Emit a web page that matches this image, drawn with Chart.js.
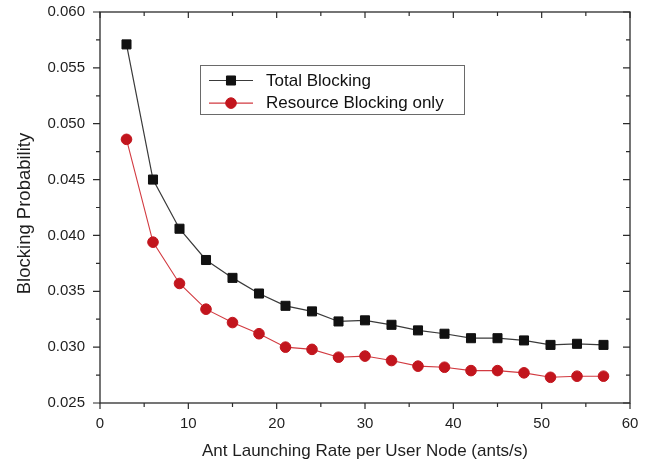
<!DOCTYPE html>
<html>
<head>
<meta charset="utf-8">
<script src="https://cdn.jsdelivr.net/npm/chart.js@4/dist/chart.umd.min.js"></script>
<style>
  html, body { margin: 0; padding: 0; background: #fff; }
  #c { display: block; }
</style>
</head>
<body>
<canvas id="c" width="656" height="467"></canvas>
<script>
// Ant launching rate per user node (ants/s)
const rates = [3, 6, 9, 12, 15, 18, 21, 24, 27, 30, 33, 36, 39, 42, 45, 48, 51, 54, 57];
// Blocking probability, all causes
const totalBlocking = [0.0571, 0.0450, 0.0406, 0.0378, 0.0362, 0.0348, 0.0337, 0.0332, 0.0323, 0.0324,
                       0.0320, 0.0315, 0.0312, 0.0308, 0.0308, 0.0306, 0.0302, 0.0303, 0.0302];
// Blocking probability due to resource shortage only
const resourceBlocking = [0.0486, 0.0394, 0.0357, 0.0334, 0.0322, 0.0312, 0.0300, 0.0298, 0.0291, 0.0292,
                          0.0288, 0.0283, 0.0282, 0.0279, 0.0279, 0.0277, 0.0273, 0.0274, 0.0274];
const seriesNames = ['Total Blocking', 'Resource Blocking only'];
const xTitle = 'Ant Launching Rate per User Node (ants/s)';
const yTitle = 'Blocking Probability';
const xRange = [0, 60];
const yRange = [0.025, 0.060];

const FONT = '"Liberation Sans", Arial, Helvetica, sans-serif';

const toPoints = (xs, ys) => xs.map((x, i) => ({ x: x, y: ys[i] }));

// Box frame with tick marks on all four sides (outward bottom/left, inward top/right)
const framePlugin = {
  id: 'frame',
  afterDraw(chart) {
    const { ctx, chartArea: a, scales } = chart;
    const xs = scales.x, ys = scales.y;
    ctx.save();
    ctx.strokeStyle = '#2b2b2b';
    ctx.lineWidth = 1.3;
    ctx.strokeRect(a.left, a.top, a.right - a.left, a.bottom - a.top);
    ctx.lineWidth = 1.2;
    ctx.beginPath();
    for (let v = xRange[0]; v <= xRange[1] + 1e-9; v += 5) {
      const px = xs.getPixelForValue(v);
      const major = Math.abs(v % 10) < 1e-9;
      const len = major ? 6 : 4;
      ctx.moveTo(px, a.bottom); ctx.lineTo(px, a.bottom + len);
      ctx.moveTo(px, a.top); ctx.lineTo(px, a.top + len);
    }
    for (let k = 0; k <= 14; k++) {
      const v = yRange[0] + k * 0.0025;
      const py = ys.getPixelForValue(v);
      const len = k % 2 === 0 ? 7 : 4;
      ctx.moveTo(a.left, py); ctx.lineTo(a.left - len, py);
      ctx.moveTo(a.right, py); ctx.lineTo(a.right - len, py);
    }
    ctx.stroke();

    // rotated y-axis title
    ctx.translate(24.5, (a.top + a.bottom) / 2 + 6);
    ctx.rotate(-Math.PI / 2);
    ctx.fillStyle = '#1e1e1e';
    ctx.font = '18.5px ' + FONT;
    ctx.textAlign = 'center';
    ctx.textBaseline = 'middle';
    ctx.fillText(yTitle, 0, 0);
    ctx.restore();
  }
};

// Legend box drawn inside the plot area
const boxLegend = {
  id: 'boxLegend',
  afterDatasetsDraw(chart) {
    const { ctx, chartArea: a } = chart;
    const bx = a.left + 100, by = a.top + 53, bw = 264, bh = 49;
    ctx.save();
    ctx.fillStyle = '#fff';
    ctx.fillRect(bx, by, bw, bh);
    ctx.strokeStyle = '#6a6a6a';
    ctx.lineWidth = 1;
    ctx.strokeRect(bx + 0.5, by + 0.5, bw, bh);
    chart.data.datasets.forEach((ds, i) => {
      const cy = by + 15.5 + i * 22.6;
      ctx.strokeStyle = ds.borderColor;
      ctx.lineWidth = 1.2;
      ctx.beginPath();
      ctx.moveTo(bx + 9, cy); ctx.lineTo(bx + 53, cy);
      ctx.stroke();
      ctx.fillStyle = ds.pointBackgroundColor;
      ctx.strokeStyle = ds.pointBorderColor;
      ctx.lineWidth = 1;
      ctx.beginPath();
      if (ds.pointStyle === 'rect') {
        const s = Math.SQRT1_2 * ds.pointRadius;
        ctx.rect(bx + 31 - s, cy - s, 2 * s, 2 * s);
      } else {
        ctx.arc(bx + 31, cy, ds.pointRadius, 0, Math.PI * 2);
      }
      ctx.fill();
      ctx.stroke();
      ctx.fillStyle = '#111';
      ctx.font = '17px ' + FONT;
      ctx.textBaseline = 'middle';
      ctx.textAlign = 'left';
      ctx.fillText(ds.label, bx + 66, cy + 0.5);
    });
    ctx.restore();
  }
};

new Chart(document.getElementById('c'), {
  type: 'line',
  data: {
    datasets: [
      {
        label: seriesNames[0],
        data: toPoints(rates, totalBlocking),
        borderColor: '#3a3a3a',
        borderWidth: 1.2,
        pointStyle: 'rect',
        pointRadius: 6.4,
        pointBackgroundColor: '#111',
        pointBorderColor: '#111',
        pointBorderWidth: 1,
        tension: 0
      },
      {
        label: seriesNames[1],
        data: toPoints(rates, resourceBlocking),
        borderColor: '#d23a40',
        borderWidth: 1.1,
        pointStyle: 'circle',
        pointRadius: 5.3,
        pointBackgroundColor: '#c2151d',
        pointBorderColor: '#c2151d',
        pointBorderWidth: 1,
        tension: 0
      }
    ]
  },
  options: {
    responsive: false,
    animation: false,
    devicePixelRatio: 1,
    layout: { padding: { top: 12, right: 26, left: 0, bottom: 0 } },
    plugins: { legend: { display: false }, tooltip: { enabled: false } },
    scales: {
      x: {
        type: 'linear',
        min: xRange[0],
        max: xRange[1],
        grid: { display: false, drawTicks: false, tickLength: 0 },
        border: { display: false },
        ticks: {
          stepSize: 10,
          padding: 12,
          color: '#1e1e1e',
          font: { family: FONT, size: 15 },
          maxRotation: 0
        },
        title: {
          display: true,
          text: xTitle,
          color: '#1e1e1e',
          font: { family: FONT, size: 17 },
          padding: { top: 0, bottom: 5 }
        },
        afterFit(scale) { scale.height = 64; scale.paddingLeft = 0; scale.paddingRight = 0; }
      },
      y: {
        type: 'linear',
        min: yRange[0],
        max: yRange[1],
        grid: { display: false, drawTicks: false, tickLength: 0 },
        border: { display: false },
        ticks: {
          stepSize: 0.005,
          padding: 15,
          color: '#1e1e1e',
          font: { family: FONT, size: 15 },
          callback: (v) => Number(v).toFixed(3)
        },
        title: { display: false },
        afterFit(scale) { scale.width = 100; scale.paddingTop = 0; scale.paddingBottom = 0; }
      }
    }
  },
  plugins: [framePlugin, boxLegend]
});
</script>
</body>
</html>
